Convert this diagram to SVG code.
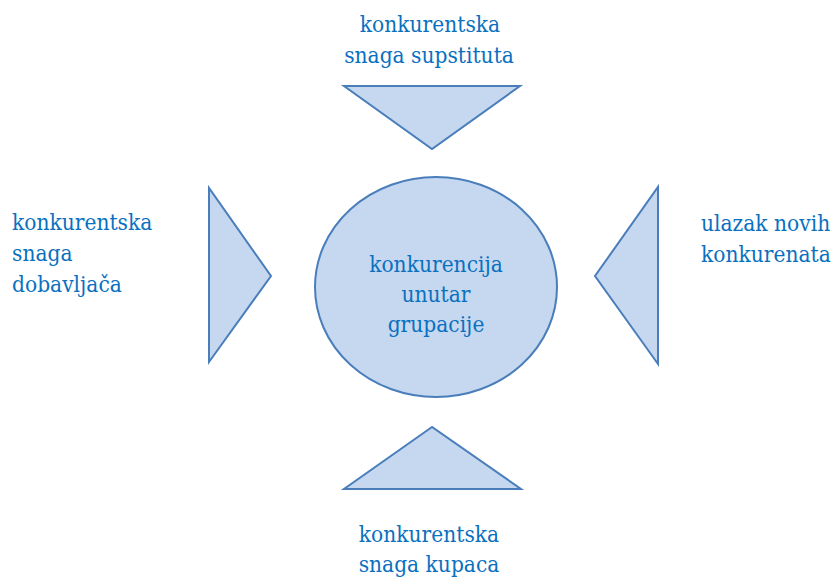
<svg xmlns="http://www.w3.org/2000/svg" width="838" height="578" viewBox="0 0 838 578">
<style>
.shape{fill:#C5D8F0;stroke:#4A7EBB;stroke-width:2;stroke-linejoin:miter}
text{font-family:'DejaVu Serif Condensed','DejaVu Serif',serif;font-stretch:condensed;font-size:22.5px;fill:#0A70C0}
.c{text-anchor:middle}
</style>
<rect width="838" height="578" fill="#fff"/>
<g id="center">
<ellipse class="shape" cx="436" cy="287" rx="121" ry="110"/>
<text class="c" x="436" y="272">konkurencija</text>
<text class="c" x="436" y="302">unutar</text>
<text class="c" x="436" y="332">grupacije</text>
</g>
<g id="top">
<polygon class="shape" points="344,86 520,86 432,149"/>
<text class="c" x="430" y="32">konkurentska</text>
<text class="c" x="429" y="63">snaga supstituta</text>
</g>
<g id="left">
<polygon class="shape" points="209,188 209,362 271,276"/>
<text x="12" y="230">konkurentska</text>
<text x="12" y="261">snaga</text>
<text x="12" y="292">dobavljača</text>
</g>
<g id="right">
<polygon class="shape" points="658,187 658,364 595,276"/>
<text x="701" y="231">ulazak novih</text>
<text x="701" y="262">konkurenata</text>
</g>
<g id="bottom">
<polygon class="shape" points="432,427 344,489 521,489"/>
<text class="c" x="429" y="542">konkurentska</text>
<text class="c" x="429" y="572">snaga kupaca</text>
</g>
<g id="connectors"></g>
</svg>
